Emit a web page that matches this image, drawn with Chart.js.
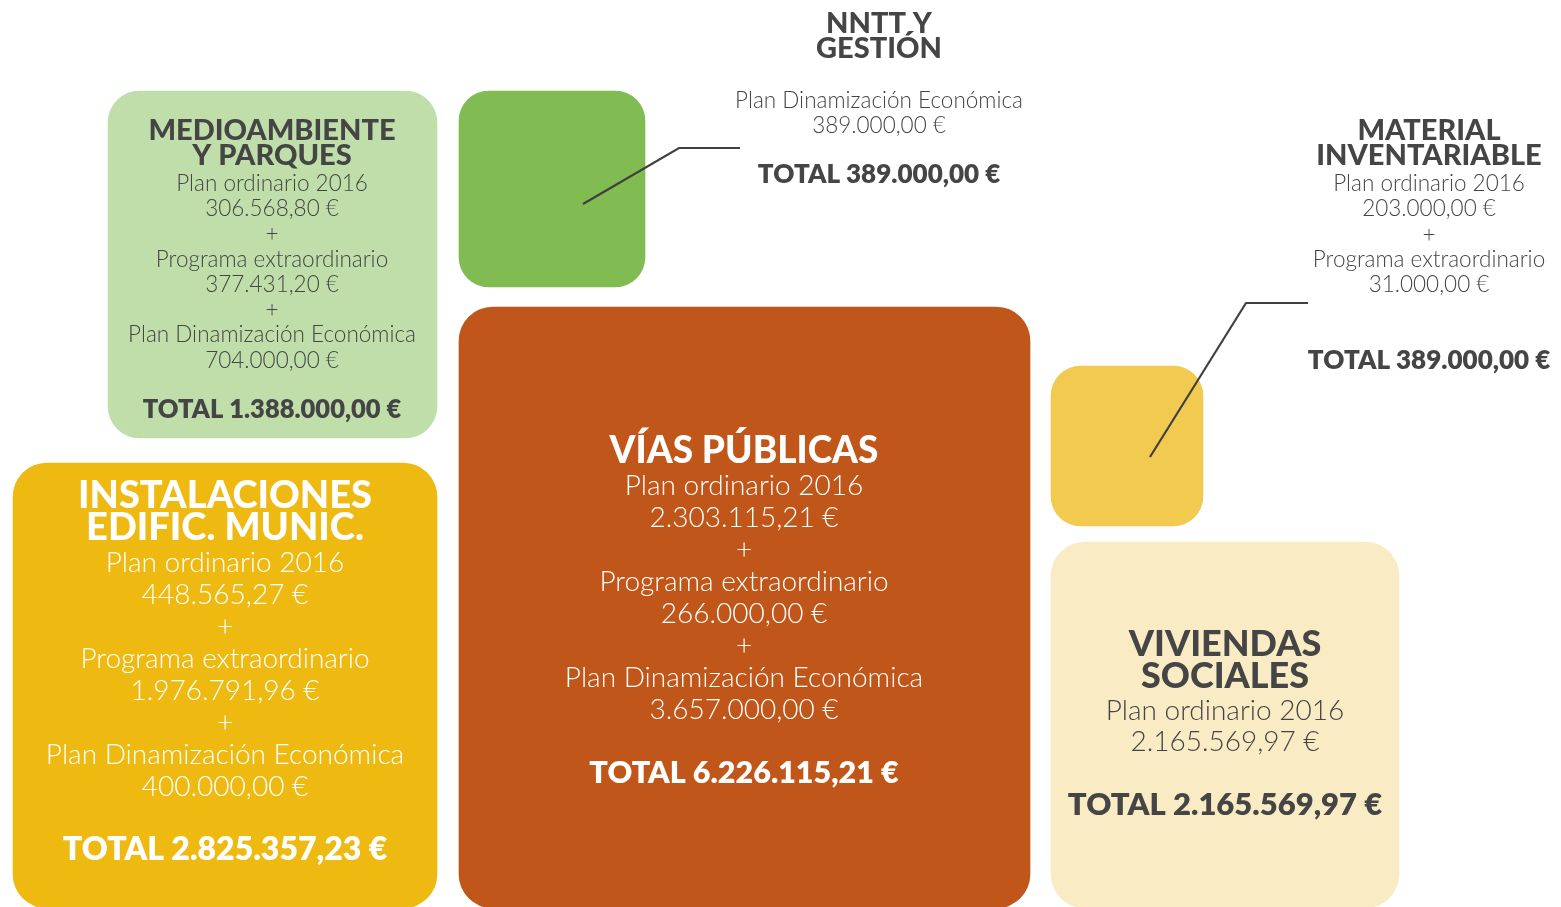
<!DOCTYPE html>
<html>
<head>
<meta charset="utf-8">
<script src="https://cdn.jsdelivr.net/npm/chart.js@4"></script>
<style>
  html, body { margin: 0; background: #fff; }
  #wrap { width: 1561px; height: 907px; }
</style>
</head>
<body>
<div id="wrap"><canvas id="inversiones"></canvas></div>
<script>
// data
const categories = [
  ['MEDIOAMBIENTE', 'Y PARQUES'],
  ['NNTT Y', 'GESTIÓN'],
  ['INSTALACIONES', 'EDIFIC. MUNIC.'],
  ['VÍAS PÚBLICAS'],
  ['MATERIAL', 'INVENTARIABLE'],
  ['VIVIENDAS', 'SOCIALES'],
];
const componentNames = ['Plan ordinario 2016', 'Programa extraordinario', 'Plan Dinamización Económica'];
const planOrdinario    = [306568.80, null, 448565.27, 2303115.21, 203000.00, 2165569.97];
const programaExtra    = [377431.20, null, 1976791.96, 266000.00, 31000.00, null];
const planDinamizacion = [704000.00, 389000.00, 400000.00, 3657000.00, null, null];
const totals           = [1388000.00, 389000.00, 2825357.23, 6226115.21, 389000.00, 2165569.97];

// layout (page units, 1 unit = 1px): cell boxes [x0, y0, x1, y1]
const boxes = [
  [108, 91, 437, 438],
  [459, 91, 645, 287],
  [13, 463, 437, 908],
  [459, 307, 1030, 908],
  [1051, 366, 1203, 526],
  [1051, 542, 1399, 908],
];
const colors = ['#bfdeaa', '#80bc52', '#eeba12', '#c05619', '#f2ca50', '#f9ebc4'];
const radii = [32, 30, 34, 34, 30, 34];

// text blocks: centre x, first baseline, line step, font sizes, colour, blank lines
const blocks = [
  { cx: 272, y: 140, step: 25.3, title: 29, body: 22.5, total: 25.5, color: '#454545', gapTitle: 0, gapTotal: 1 },
  { cx: 879, y: 33, step: 25, title: 29, body: 22.5, total: 26, color: '#454545', gapTitle: 1, gapTotal: 1 },
  { cx: 225, y: 508, step: 32, title: 38, body: 28, total: 32, color: '#ffffff', gapTitle: 0, gapTotal: 1 },
  { cx: 744, y: 463, step: 32, title: 37, body: 28, total: 30.5, color: '#ffffff', gapTitle: 0, gapTotal: 1 },
  { cx: 1429, y: 140, step: 25.4, title: 29, body: 22.5, total: 26, color: '#454545', gapTitle: 0, gapTotal: 2 },
  { cx: 1225, y: 656, step: 31.8, title: 36, body: 28, total: 31, color: '#454545', gapTitle: 0, gapTotal: 1 },
];
const leaders = [
  [[740, 148], [679, 148], [583, 204]],
  [[1308, 303], [1246, 303], [1150, 457]],
];

function euro(v) {
  const parts = v.toFixed(2).split('.');
  return parts[0].replace(/\B(?=(\d{3})+(?!\d))/g, '.') + ',' + parts[1] + ' €';
}

function blockLines(i) {
  const b = blocks[i];
  const lines = categories[i].map(t => ({ text: t, kind: 'title' }));
  for (let g = 0; g < b.gapTitle; g++) lines.push({ text: '', kind: 'body' });
  const parts = [planOrdinario[i], programaExtra[i], planDinamizacion[i]];
  let first = true;
  parts.forEach((v, k) => {
    if (v === null) return;
    if (!first) lines.push({ text: '+', kind: 'body' });
    lines.push({ text: componentNames[k], kind: 'body' });
    lines.push({ text: euro(v), kind: 'body' });
    first = false;
  });
  for (let g = 0; g < b.gapTotal; g++) lines.push({ text: '', kind: 'body' });
  lines.push({ text: 'TOTAL ' + euro(totals[i]), kind: 'total' });
  return lines;
}

const labelPlugin = {
  id: 'cellLabels',
  afterDatasetsDraw(chart) {
    const ctx = chart.ctx;
    const xs = chart.scales.x, ys = chart.scales.y;
    ctx.save();
    ctx.strokeStyle = '#404040';
    ctx.lineWidth = 2.2;
    leaders.forEach(pts => {
      ctx.beginPath();
      pts.forEach((p, k) => {
        const px = xs.getPixelForValue(p[0]), py = ys.getPixelForValue(p[1]);
        if (k === 0) ctx.moveTo(px, py); else ctx.lineTo(px, py);
      });
      ctx.stroke();
    });
    ctx.textAlign = 'center';
    ctx.textBaseline = 'alphabetic';
    blocks.forEach((b, i) => {
      ctx.fillStyle = b.color;
      const x = xs.getPixelForValue(b.cx);
      blockLines(i).forEach((ln, k) => {
        if (!ln.text) return;
        const y = ys.getPixelForValue(b.y + k * b.step);
        if (ln.kind === 'title') ctx.font = '900 ' + b.title + 'px Lato';
        else if (ln.kind === 'total') ctx.font = '800 ' + b.total + 'px Lato';
        else ctx.font = '300 ' + b.body + 'px Lato';
        ctx.fillText(ln.text, x, y);
      });
    });
    ctx.restore();
  }
};

new Chart(document.getElementById('inversiones'), {
  type: 'bar',
  data: {
    datasets: categories.map((name, i) => ({
      label: name.join(' '),
      data: [{ x: (boxes[i][0] + boxes[i][2]) / 2, y: [boxes[i][1], boxes[i][3]] }],
      barThickness: boxes[i][2] - boxes[i][0],
      backgroundColor: colors[i],
      borderRadius: radii[i],
      borderSkipped: false,
      stack: 'cells',
    })),
  },
  options: {
    responsive: true,
    maintainAspectRatio: false,
    animation: false,
    layout: { padding: 0 },
    plugins: { legend: { display: false }, tooltip: { enabled: false } },
    scales: {
      x: { type: 'linear', min: 0, max: 1561, offset: false, display: false },
      y: { type: 'linear', min: 0, max: 907, reverse: true, display: false },
    },
  },
  plugins: [labelPlugin],
});
</script>
</body>
</html>
